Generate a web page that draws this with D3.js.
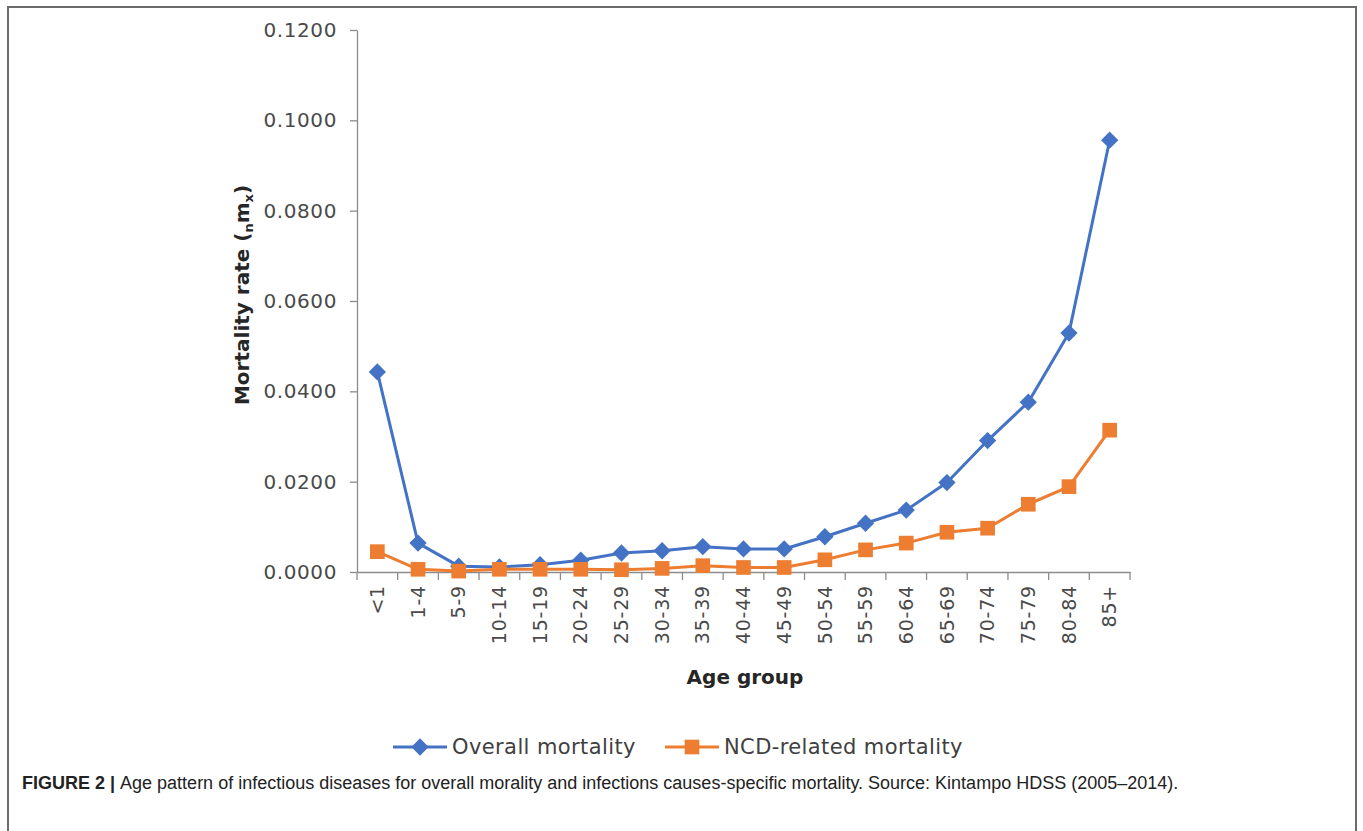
<!DOCTYPE html>
<html>
<head>
    <meta charset="utf-8">
    <title>Age pattern of mortality</title>
    <script src="https://d3js.org/d3.v7.min.js"></script>
    <style>
        html, body {
            margin: 0;
            padding: 0;
            background: #fff;
            overflow: hidden;
        }
        svg text {
            font-family: "DejaVu Sans", Verdana, sans-serif;
        }
        .axis path, .axis line {
            stroke: #8c8c8c;
            stroke-width: 1.3px;
        }
        .tick text {
            fill: #4a4a4a;
        }
    </style>
</head>
<body>
    <svg id="chart" width="1363" height="831"></svg>
    <script>
        // Datos
        const ageGroups = ["<1", "1-4", "5-9", "10-14", "15-19", "20-24", "25-29", "30-34", "35-39",
            "40-44", "45-49", "50-54", "55-59", "60-64", "65-69", "70-74", "75-79", "80-84", "85+"];
        const overallMortality = [0.0443, 0.0064, 0.0013, 0.0011, 0.0016, 0.0026, 0.0042, 0.0047, 0.0056,
            0.0051, 0.0051, 0.0078, 0.0108, 0.0137, 0.0198, 0.0291, 0.0376, 0.0529, 0.0956];
        const ncdMortality = [0.0045, 0.0006, 0.0002, 0.0006, 0.0006, 0.0006, 0.0005, 0.0008, 0.0014,
            0.0010, 0.0010, 0.0027, 0.0049, 0.0064, 0.0088, 0.0097, 0.0150, 0.0189, 0.0314];
        const yTicks = [0, 0.02, 0.04, 0.06, 0.08, 0.10, 0.12];
        const seriesNames = ["Overall mortality", "NCD-related mortality"];

        const blue = "#4472c4";
        const orange = "#ed7d31";

        const svg = d3.select("#chart");

        // Marco de la figura
        svg.append("path")
            .attr("d", "M8,840 V7 H1356 V840")
            .attr("fill", "none")
            .attr("stroke", "#6b6b6b")
            .attr("stroke-width", 2);

        // Escalas
        const plotLeft = 357, plotRight = 1130, plotTop = 30, plotBottom = 572;
        const x = d3.scaleBand().domain(ageGroups).range([plotLeft, plotRight]).paddingInner(0).paddingOuter(0);
        const y = d3.scaleLinear().domain([0, 0.12]).range([plotBottom, plotTop]);
        const cx = d => x(d) + x.bandwidth() / 2;

        // Eje Y
        const yAxis = svg.append("g")
            .attr("class", "axis")
            .attr("transform", `translate(${plotLeft},0)`)
            .call(d3.axisLeft(y).tickValues(yTicks).tickFormat(d3.format(".4f")).tickSize(7).tickSizeOuter(0));
        yAxis.selectAll("text")
            .attr("x", -20)
            .style("font-size", "20px")
            .style("letter-spacing", "0.6px");

        // Eje X
        const xAxis = svg.append("g")
            .attr("class", "axis")
            .attr("transform", `translate(0,${plotBottom})`)
            .call(d3.axisBottom(x).tickSize(0).tickSizeOuter(0));
        xAxis.selectAll(".tick text")
            .attr("transform", "rotate(-90)")
            .attr("x", -13)
            .attr("y", 0)
            .attr("dy", "0.35em")
            .style("text-anchor", "end")
            .style("font-size", "19px")
            .style("letter-spacing", "0.8px");

        // Marcas en los límites de las categorías
        xAxis.selectAll(".bound")
            .data(d3.range(ageGroups.length + 1))
            .enter().append("line")
            .attr("class", "bound")
            .attr("x1", i => plotLeft + i * x.bandwidth())
            .attr("x2", i => plotLeft + i * x.bandwidth())
            .attr("y1", 0)
            .attr("y2", 8);

        // Títulos de los ejes
        const yTitle = svg.append("text")
            .attr("transform", "translate(249,295) rotate(-90)")
            .attr("text-anchor", "middle")
            .style("font-size", "20px")
            .style("font-weight", "bold")
            .attr("fill", "#262626");
        yTitle.append("tspan").text("Mortality  rate (");
        yTitle.append("tspan").text("n").style("font-size", "13px").attr("dy", 4);
        yTitle.append("tspan").text("m").attr("dy", -4);
        yTitle.append("tspan").text("x").style("font-size", "13px").attr("dy", 4);
        yTitle.append("tspan").text(")").attr("dy", -4);

        svg.append("text")
            .attr("x", 745)
            .attr("y", 684)
            .attr("text-anchor", "middle")
            .style("font-size", "20px")
            .style("font-weight", "bold")
            .attr("fill", "#262626")
            .text("Age group");

        // Series
        const line = d3.line()
            .x((d, i) => cx(ageGroups[i]))
            .y(d => y(d));

        // rombo = cuadrado girado 45 grados
        const markers = {
            diamond: { type: d3.symbolSquare, size: 150, rotate: 45 },
            square: { type: d3.symbolSquare, size: 215, rotate: 0 }
        };

        function drawSeries(values, color, marker) {
            const g = svg.append("g");
            g.append("path")
                .datum(values)
                .attr("d", line)
                .attr("fill", "none")
                .attr("stroke", color)
                .attr("stroke-width", 3)
                .attr("stroke-linejoin", "round");
            g.selectAll("path.marker")
                .data(values)
                .enter().append("path")
                .attr("class", "marker")
                .attr("d", d3.symbol().type(marker.type).size(marker.size))
                .attr("transform", (d, i) => `translate(${cx(ageGroups[i])},${y(d)}) rotate(${marker.rotate})`)
                .attr("fill", color);
        }

        drawSeries(overallMortality, blue, markers.diamond);
        drawSeries(ncdMortality, orange, markers.square);

        // Leyenda
        const legendItems = [
            { name: seriesNames[0], color: blue, marker: markers.diamond, x0: 393 },
            { name: seriesNames[1], color: orange, marker: markers.square, x0: 665 }
        ];
        const legend = svg.append("g").attr("transform", "translate(0,747)");
        legendItems.forEach(it => {
            legend.append("line")
                .attr("x1", it.x0).attr("x2", it.x0 + 54)
                .attr("stroke", it.color).attr("stroke-width", 3);
            legend.append("path")
                .attr("d", d3.symbol().type(it.marker.type).size(it.marker.size))
                .attr("transform", `translate(${it.x0 + 27},0) rotate(${it.marker.rotate})`)
                .attr("fill", it.color);
            legend.append("text")
                .attr("x", it.x0 + 59)
                .attr("dy", "0.35em")
                .style("font-size", "21px")
                .style("letter-spacing", "0.4px")
                .attr("fill", "#404040")
                .text(it.name);
        });

        // Pie de figura
        const caption = svg.append("text")
            .attr("x", 22)
            .attr("y", 789)
            .style("font-family", "'Liberation Sans', Arial, sans-serif")
            .style("font-size", "18px")
            .attr("fill", "#222");
        caption.append("tspan").text("FIGURE 2 | ").style("font-weight", "bold");
        caption.append("tspan").text("Age pattern of infectious diseases for overall morality and infections causes-specific mortality. Source: Kintampo HDSS (2005\u20132014).");
    </script>
</body>
</html>
